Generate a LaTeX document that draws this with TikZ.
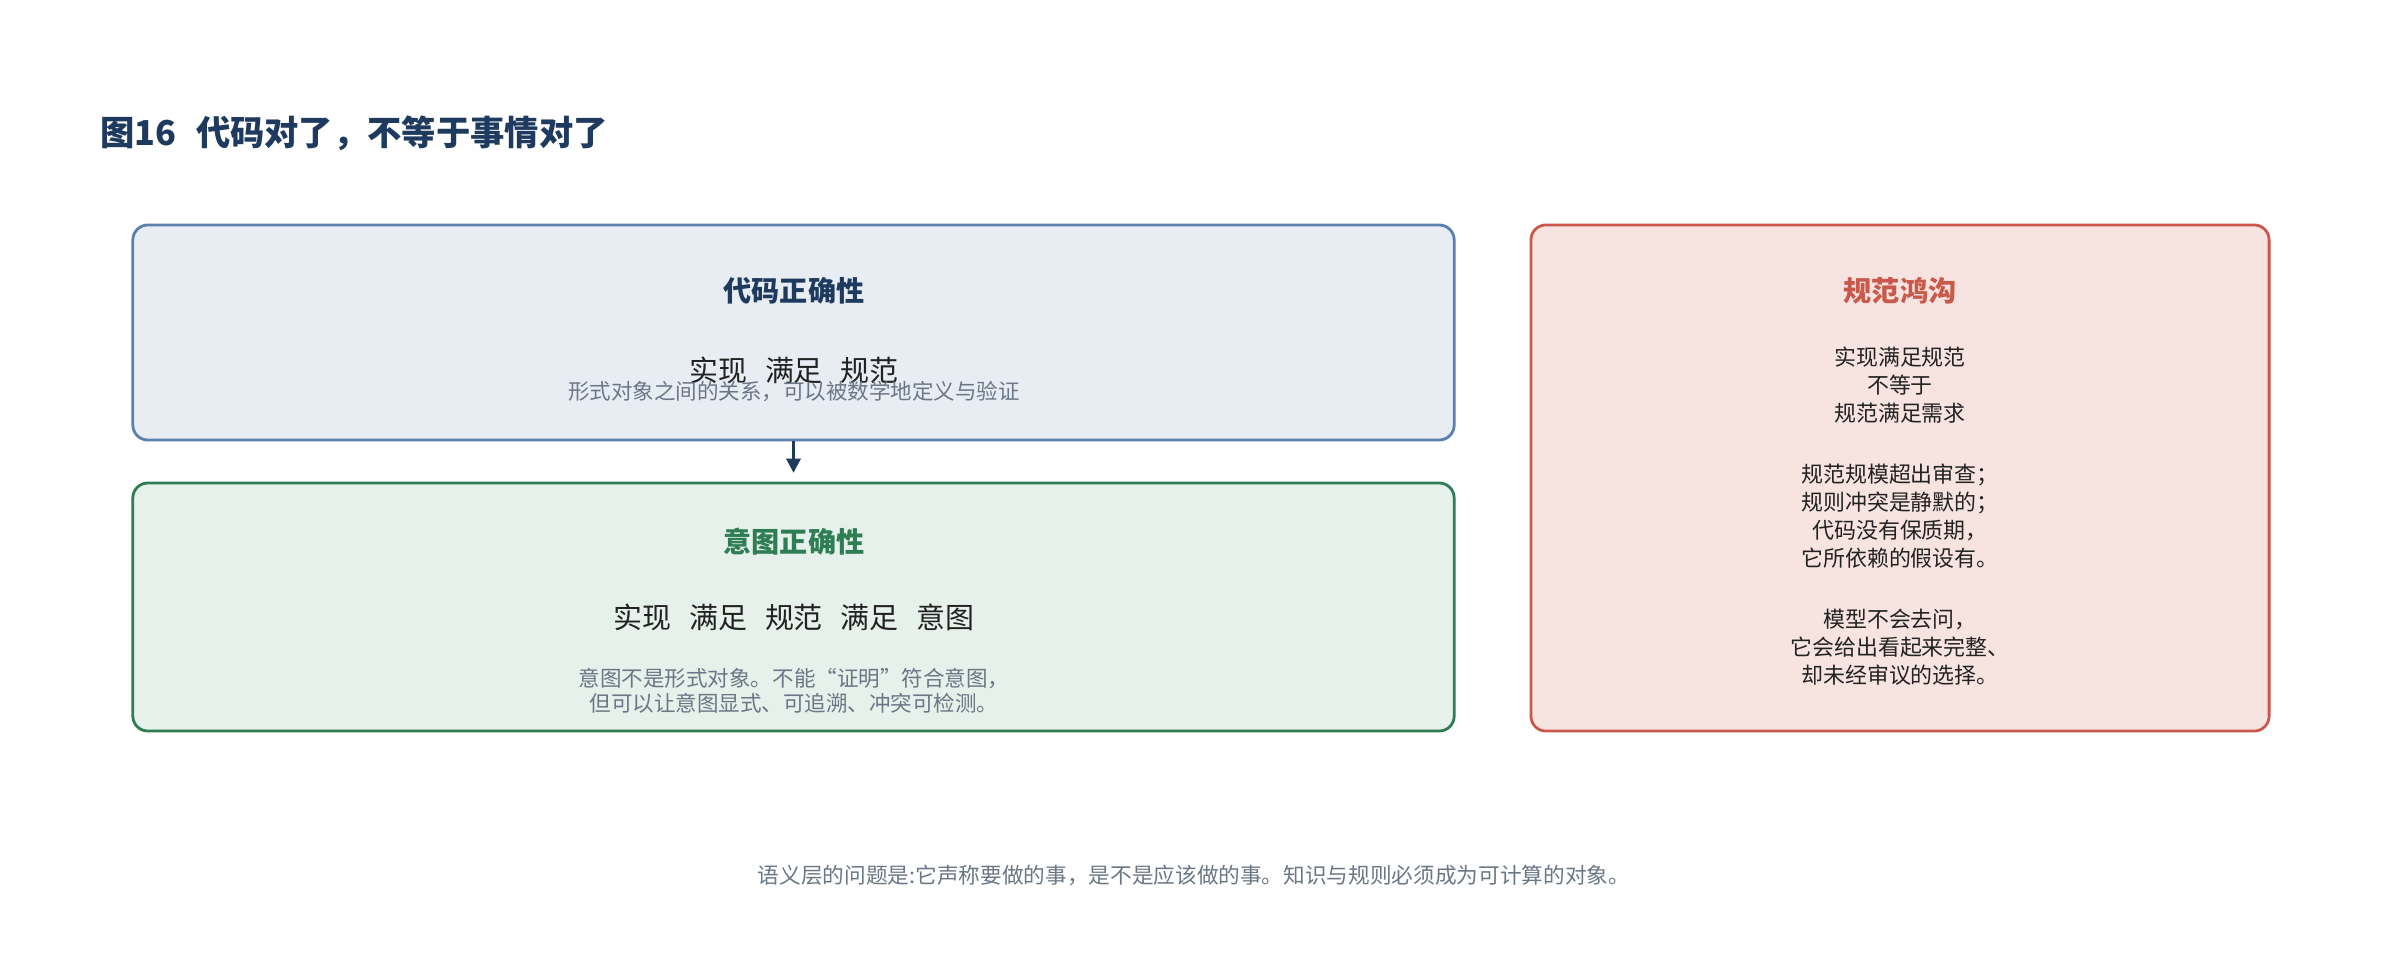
\documentclass[tikz,border=0pt]{standalone}
\usepackage{fontspec}
\setmainfont{Noto Sans CJK SC}
\usepackage{tikz}
\usetikzlibrary{arrows.meta}

\definecolor{navy}{HTML}{1E3A5F}
\definecolor{bluestroke}{HTML}{5B7FAE}
\definecolor{bluefill}{HTML}{E8EDF4}
\definecolor{greenstroke}{HTML}{2E7D55}
\definecolor{greenfill}{HTML}{E5F1EA}
\definecolor{redstroke}{HTML}{C9594A}
\definecolor{redfill}{HTML}{F7E4E1}
\definecolor{note}{HTML}{6B7686}
\definecolor{ink}{HTML}{222222}

\newcommand{\wsep}{\hspace{12.8pt}}

\begin{document}
\begin{tikzpicture}[x=0.025cm, y=-0.025cm,
    panel/.style={draw, rounded corners=0.375cm, line width=2pt, inner sep=0pt},
    headline/.style={font=\fontsize{20}{24}\selectfont\bfseries},
    formula/.style={font=\fontsize{20.6}{25}\selectfont, text=ink},
    remark/.style={font=\fontsize{15.3}{18.1}\selectfont, text=note, align=center},
    gaptext/.style={font=\fontsize{15.6}{19.9}\selectfont, text=ink, align=center}]
    \useasboundingbox[fill=white] (0,0) rectangle (2400,975);

    \node[anchor=west, inner sep=0pt, text=navy, font=\fontsize{24.4}{30}\selectfont\bfseries] (title) at (100,133) {图16\hspace{14pt}代码对了，不等于事情对了};

    \node[panel, draw=bluestroke, fill=bluefill, minimum width=33.025cm, minimum height=5.375cm] (code) at (793.5,332.5) {};
    \node[panel, draw=greenstroke, fill=greenfill, minimum width=33.025cm, minimum height=6.2cm] (intent) at (793.5,607) {};
    \node[panel, draw=redstroke, fill=redfill, minimum width=18.45cm, minimum height=12.65cm] (gap) at (1900,478) {};

    \node[headline, text=navy] (code-title) at (794,291) {代码正确性};
    \node[formula] (code-rel) at (794,370) {实现\wsep 满足\wsep 规范};
    \node[remark] (code-note) at (794,392) {形式对象之间的关系，可以被数学地定义与验证};

    \node[headline, text=greenstroke] (intent-title) at (794,542) {意图正确性};
    \node[formula] (intent-rel) at (794,617) {实现\wsep 满足\wsep 规范\wsep 满足\wsep 意图};
    \node[remark] (intent-note) at (794,691) {意图不是形式对象。不能“证明”符合意图，\\但可以让意图显式、可追溯、冲突可检测。};

    \node[headline, text=redstroke] (gap-title) at (1900,291) {规范鸿沟};
    \node[gaptext] (gap-a) at (1900,385) {实现满足规范\\不等于\\规范满足需求};
    \node[gaptext] (gap-b) at (1900,516.5) {规范规模超出审查；\\规则冲突是静默的；\\代码没有保质期，\\它所依赖的假设有。};
    \node[gaptext] (gap-c) at (1900,647.5) {模型不会去问，\\它会给出看起来完整、\\却未经审议的选择。};

    \draw[navy, line width=2pt, -{Triangle[length=10pt,width=10pt]}, shorten >=0.22cm] (code.south) -- (intent.north);

    \node[font=\fontsize{15.4}{18}\selectfont, text=note] (footer) at (1194,875) {语义层的问题是:它声称要做的事，是不是应该做的事。知识与规则必须成为可计算的对象。};
\end{tikzpicture}
\end{document}
